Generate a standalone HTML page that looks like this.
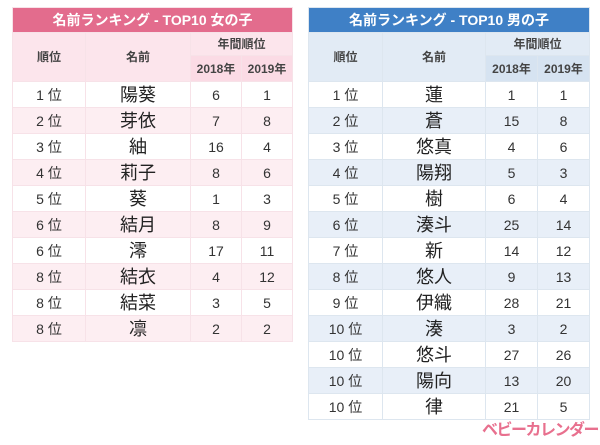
<!DOCTYPE html><html><head><meta charset="utf-8"><style>
body{margin:0;width:600px;height:445px;background:#fff;font-family:"Liberation Sans","Noto Sans CJK JP",sans-serif;position:relative;overflow:hidden}
table{position:absolute;border-collapse:collapse;table-layout:fixed}
td{padding:0;text-align:center;color:#333;font-size:14px;height:25px;border:1px solid #eee;line-height:1}
.t{color:#fff;font-weight:bold;font-size:14px;height:24px}
.h{font-weight:bold;font-size:12px;color:#444}
.n{font-size:18px;color:#222}
#g{left:12px;top:7px;width:280px}
#g .t{background:#e36c8d}
#g .h{background:#fce5ec}
#g .y{background:#fbdbe5}
#g tr.a td{background:#fdeef2}
#g td{border-color:#f7e2e8}
#b{left:308px;top:7px;width:281px}
#b .t{background:#3f80c6}
#b .h{background:#e2ebf5}
#b .y{background:#d6e3f1}
#b tr.a td{background:#e8eff8}
#b td{border-color:#dde6ef}
.logo{position:absolute;left:482px;top:416px;color:#e8708e;font-weight:bold;font-size:16px;letter-spacing:-1.5px;white-space:nowrap}
</style></head><body>
<table id="g"><colgroup><col style="width:73px"><col style="width:105px"><col style="width:51px"><col style="width:51px"></colgroup>
<tr><td class="t" colspan="4">名前ランキング - TOP10 女の子</td></tr>
<tr><td class="h" rowspan="2">順位</td><td class="h" rowspan="2">名前</td><td class="h" colspan="2" style="height:22px">年間順位</td></tr>
<tr><td class="h y" style="height:25px">2018年</td><td class="h y">2019年</td></tr>
<tr><td>1 位</td><td class="n">陽葵</td><td>6</td><td>1</td></tr>
<tr class="a"><td>2 位</td><td class="n">芽依</td><td>7</td><td>8</td></tr>
<tr><td>3 位</td><td class="n">紬</td><td>16</td><td>4</td></tr>
<tr class="a"><td>4 位</td><td class="n">莉子</td><td>8</td><td>6</td></tr>
<tr><td>5 位</td><td class="n">葵</td><td>1</td><td>3</td></tr>
<tr class="a"><td>6 位</td><td class="n">結月</td><td>8</td><td>9</td></tr>
<tr><td>6 位</td><td class="n">澪</td><td>17</td><td>11</td></tr>
<tr class="a"><td>8 位</td><td class="n">結衣</td><td>4</td><td>12</td></tr>
<tr><td>8 位</td><td class="n">結菜</td><td>3</td><td>5</td></tr>
<tr class="a"><td>8 位</td><td class="n">凛</td><td>2</td><td>2</td></tr>
</table>
<table id="b"><colgroup><col style="width:74px"><col style="width:103px"><col style="width:52px"><col style="width:52px"></colgroup>
<tr><td class="t" colspan="4">名前ランキング - TOP10 男の子</td></tr>
<tr><td class="h" rowspan="2">順位</td><td class="h" rowspan="2">名前</td><td class="h" colspan="2" style="height:22px">年間順位</td></tr>
<tr><td class="h y" style="height:25px">2018年</td><td class="h y">2019年</td></tr>
<tr><td>1 位</td><td class="n">蓮</td><td>1</td><td>1</td></tr>
<tr class="a"><td>2 位</td><td class="n">蒼</td><td>15</td><td>8</td></tr>
<tr><td>3 位</td><td class="n">悠真</td><td>4</td><td>6</td></tr>
<tr class="a"><td>4 位</td><td class="n">陽翔</td><td>5</td><td>3</td></tr>
<tr><td>5 位</td><td class="n">樹</td><td>6</td><td>4</td></tr>
<tr class="a"><td>6 位</td><td class="n">湊斗</td><td>25</td><td>14</td></tr>
<tr><td>7 位</td><td class="n">新</td><td>14</td><td>12</td></tr>
<tr class="a"><td>8 位</td><td class="n">悠人</td><td>9</td><td>13</td></tr>
<tr><td>9 位</td><td class="n">伊織</td><td>28</td><td>21</td></tr>
<tr class="a"><td>10 位</td><td class="n">湊</td><td>3</td><td>2</td></tr>
<tr><td>10 位</td><td class="n">悠斗</td><td>27</td><td>26</td></tr>
<tr class="a"><td>10 位</td><td class="n">陽向</td><td>13</td><td>20</td></tr>
<tr><td>10 位</td><td class="n">律</td><td>21</td><td>5</td></tr>
</table>
<div class="logo">ベビーカレンダー</div>
</body></html>
